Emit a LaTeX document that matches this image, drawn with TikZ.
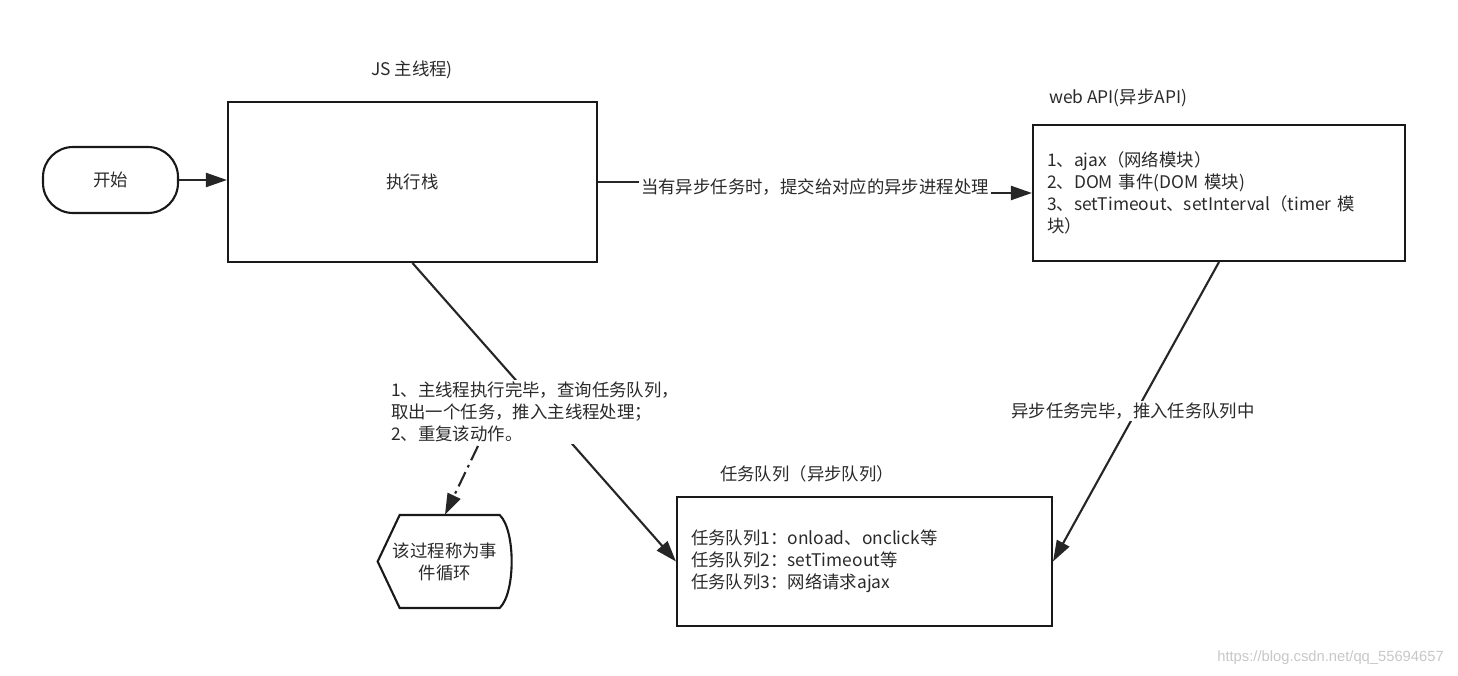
\documentclass[tikz,border=0pt]{standalone}
\usepackage{fontspec}
\setmainfont{Noto Sans CJK SC}
\newfontfamily\urlfont{Liberation Sans}
\usetikzlibrary{arrows.meta}
\definecolor{inkgray}{HTML}{2A2A2A}
\tikzset{
  box/.style={rectangle, draw=black!90, line width=1.2pt, text=inkgray},
  flow/.style={draw=black!85, line width=1.2pt, -{Triangle[length=0.42cm,width=0.28cm]}},
  note/.style={text=inkgray, inner sep=1pt},
}

\begin{document}
\begin{tikzpicture}[x=0.02cm, y=-0.02cm, font=\fontsize{9.9}{12.5}\selectfont]
    \useasboundingbox (0,0) rectangle (1458,676);

    \node[box, rounded corners=0.6cm, minimum width=2.7cm, minimum height=1.32cm] (start) at (110.5,180) {开始};

    \node[box, minimum width=7.38cm, minimum height=3.2cm] (main_stack) at (412.5,182) {执行栈};
    \node[note] (main_title) at (412,70) {JS 主线程)};

    \node[box, minimum width=7.44cm, minimum height=2.72cm, inner xsep=0.28cm, text width=6.88cm, align=left] (web_api) at (1219,193)
      {
        1、ajax（网络模块）\\
        2、DOM 事件(DOM 模块)\\
        3、setTimeout、setInterval（timer 模\\
        块）
      };
    \node[note, anchor=west] (web_title) at (1047,98) {web API(异步API)};

    \node[box, minimum width=7.5cm, minimum height=2.58cm, inner xsep=0.28cm, text width=6.94cm, align=left] (task_queue) at (864.5,561.5)
      {
        任务队列1：onload、onclick等\\
        任务队列2：setTimeout等\\
        任务队列3：网络请求ajax
      };
    \node[note] (queue_title) at (807,474) {任务队列（异步队列）};

    % event loop (display shape)
    \node[note, minimum width=2.68cm, minimum height=1.86cm, align=center] (event_loop) at (445,561.5) {该过程称为事\\件循环};
    \draw[black!90, line width=1.2pt] (event_loop.west) -- ++(22,-46.5) -- ++(100,0)
      .. controls +(16,15) and +(16,-15) .. ++(0,93) -- ++(-100,0) -- cycle;

    \coordinate (loop_from) at (478,446);
    \coordinate (api_bend) at (815,187);

    \draw[flow] (start.east)      -- (start.east -| main_stack.west);
    \draw[flow] (main_stack.east) -| (api_bend) |- (web_api.west);
    \draw[flow] (main_stack.south) -- (task_queue.west);
    \draw[flow] (web_api.south)   -- (task_queue.east);
    \draw[flow, dash pattern=on 9pt off 3pt on 1.5pt off 3pt] (loop_from) -- (event_loop.north);

    \node[note, fill=white] (submit_note) at (api_bend) {当有异步任务时，提交给对应的异步进程处理};
    \node[note, fill=white, anchor=west, align=left] (loop_note) at (389,412)
      {1、主线程执行完毕，查询任务队列，\\取出一个任务，推入主线程处理；\\2、重复该动作。};
    \node[note, fill=white] (done_note) at (1133,411) {异步任务完毕，推入任务队列中};

    \node[text=black!22, font=\urlfont\fontsize{8.4}{10}\selectfont, anchor=east] (watermark) at (1450,658) {https://blog.csdn.net/qq\_55694657};
\end{tikzpicture}
\end{document}
